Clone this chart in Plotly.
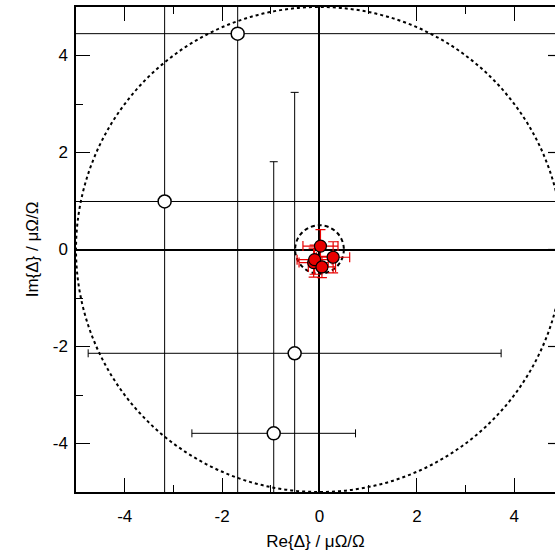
import plotly.graph_objects as go

# Open points (large uncertainties)
open_re = [-1.68, -3.18, -0.51, -0.94]
open_im = [4.45, 0.99, -2.14, -3.79]
open_re_err = [20, 20, 4.24, 1.68]
open_im_err = [20, 20, 5.38, 5.60]

# Red points (small uncertainties, near origin)
red_re = [0.02, 0.28, -0.12, -0.10, 0.05]
red_im = [0.07, -0.16, -0.27, -0.21, -0.36]
red_re_err = [0.36, 0.34, 0.30, 0.36, 0.28]
red_im_err = [0.34, 0.32, 0.30, 0.30, 0.22]

big_radius = 5.0
small_radius = 0.5

x_ticks = [-4, -2, 0, 2, 4]
y_ticks = [-4, -2, 0, 2, 4]

FONT = "Liberation Sans, Arial, sans-serif"

fig = go.Figure()

fig.add_trace(go.Scatter(
    x=open_re, y=open_im, mode="markers",
    marker=dict(size=13, color="white", line=dict(color="black", width=1.5)),
    error_x=dict(type="data", array=open_re_err, color="black", thickness=1, width=4),
    error_y=dict(type="data", array=open_im_err, color="black", thickness=1, width=4),
    showlegend=False,
))

fig.add_trace(go.Scatter(
    x=red_re, y=red_im, mode="markers",
    marker=dict(size=12, color="#e80000", line=dict(color="black", width=1.2)),
    error_x=dict(type="data", array=red_re_err, color="#e80000", thickness=1.2, width=5),
    error_y=dict(type="data", array=red_im_err, color="#e80000", thickness=1.2, width=5),
    showlegend=False,
))

shapes = [
    dict(type="circle", xref="x", yref="y",
         x0=-big_radius, x1=big_radius, y0=-big_radius, y1=big_radius,
         line=dict(color="black", width=2, dash="3px,3px"), layer="below"),
    dict(type="circle", xref="x", yref="y",
         x0=-small_radius, x1=small_radius, y0=-small_radius, y1=small_radius,
         line=dict(color="black", width=2, dash="4px,3px"), layer="below"),
]
# visible stubs of the right-hand axis ticks (axis itself is just outside the image)
for t in y_ticks:
    shapes.append(dict(type="line", xref="paper", yref="y",
                       x0=1 - 7 / 479, x1=1, y0=t, y1=t,
                       line=dict(color="black", width=1.2)))
fig.update_layout(shapes=shapes)

fig.update_xaxes(
    range=[-5, 4.836], tickvals=x_ticks, ticktext=[str(v) for v in x_ticks],
    ticks="inside", ticklen=14, tickwidth=1.2, tickcolor="black",
    minor=dict(dtick=1, tick0=1, ticks="inside", ticklen=7, tickwidth=1.2, tickcolor="black"),
    showline=True, linecolor="black", linewidth=1.5, mirror="ticks",
    showgrid=False, zeroline=True, zerolinecolor="black", zerolinewidth=1.5,
    automargin=False, ticklabelstandoff=8,
    title=dict(text="Re{Δ} / μΩ/Ω", font=dict(family=FONT, size=17, color="black"), standoff=10),
    tickfont=dict(family=FONT, size=17, color="black"),
)
fig.update_yaxes(
    range=[-5, 5], tickvals=y_ticks, ticktext=[str(v) for v in y_ticks],
    ticks="inside", ticklen=14, tickwidth=1.2, tickcolor="black",
    minor=dict(dtick=1, tick0=1, ticks="inside", ticklen=7, tickwidth=1.2, tickcolor="black"),
    showline=True, linecolor="black", linewidth=1.5, mirror=False,
    showgrid=False, zeroline=True, zerolinecolor="black", zerolinewidth=1.5,
    automargin=False, ticklabelstandoff=3,
    title=dict(text="Im{Δ} / μΩ/Ω", font=dict(family=FONT, size=17, color="black"), standoff=10),
    tickfont=dict(family=FONT, size=17, color="black"),
)

fig.update_layout(
    width=555, height=558,
    margin=dict(l=76, r=0, t=7, b=66),
    paper_bgcolor="white", plot_bgcolor="white",
    font=dict(family=FONT, color="black"),
)

fig.write_html(
    "out.html",
    config={"displayModeBar": False},
    post_script="document.body.style.margin='0';document.body.style.overflow='hidden';",
)
